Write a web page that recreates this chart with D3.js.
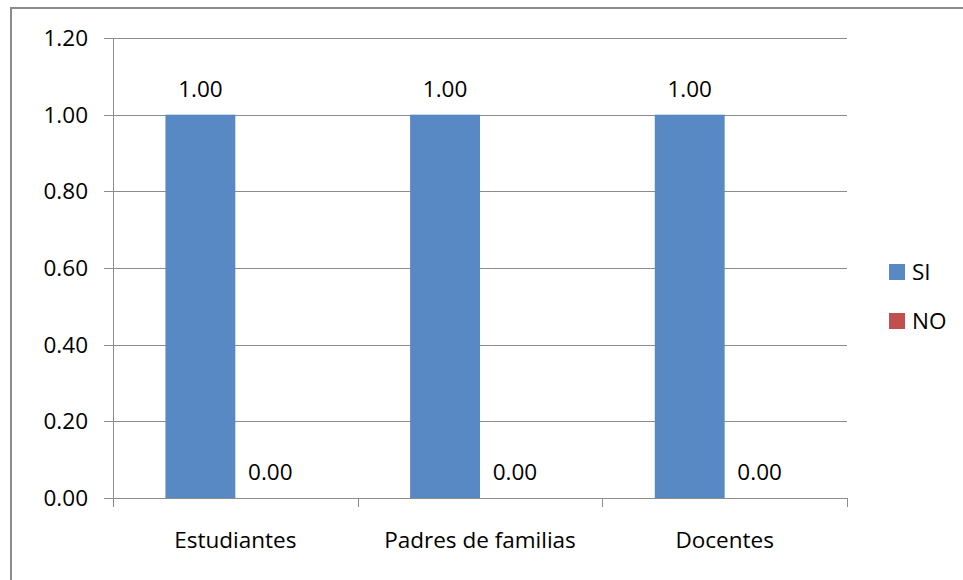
<!DOCTYPE html>
<html>
<head>
<meta charset="utf-8">
<script src="https://cdn.jsdelivr.net/npm/d3@7"></script>
<style>
  body { margin: 0; background: #fff; }
  svg { display: block; font-family: "Open Sans", sans-serif; }
</style>
</head>
<body>
<svg id="chart" width="963" height="580"></svg>
<script>
const categories = ['Estudiantes', 'Padres de familias', 'Docentes']
const seriesNames = ['SI', 'NO']
const siValues = [1.0, 1.0, 1.0]
const noValues = [0.0, 0.0, 0.0]
const yTicks = [0, 0.2, 0.4, 0.6, 0.8, 1.0, 1.2]
const colors = ['#5889c4', '#c0504d']

const svg = d3.select('#chart')
const fontSize = 22.5
const gridColor = '#8c8c8c'

// outer frame (right and bottom edges fall outside the picture)
svg.append('rect')
  .attr('x', 11).attr('y', 8)
  .attr('width', 1000).attr('height', 600)
  .attr('fill', 'none')
  .attr('stroke', '#8c8c8c')
  .attr('stroke-width', 2)

const plot = { left: 113, right: 847, top: 38, bottom: 498 }

const x = d3.scaleBand()
  .domain(categories)
  .range([plot.left, plot.right])

// two bars per category, 150% gap between groups
const barW = x.bandwidth() / 3.5
const xs = d3.scaleBand()
  .domain(seriesNames)
  .range([-barW, barW])

const y = d3.scaleLinear()
  .domain([0, 1.2])
  .range([plot.bottom, plot.top])

// gridlines + y ticks
const g = svg.append('g')
g.selectAll('line.grid')
  .data(yTicks)
  .join('line')
  .attr('class', 'grid')
  .attr('x1', plot.left - 9)
  .attr('x2', plot.right)
  .attr('y1', d => Math.round(y(d)) + 0.5)
  .attr('y2', d => Math.round(y(d)) + 0.5)
  .attr('stroke', gridColor)

g.selectAll('text.ytick')
  .data(yTicks)
  .join('text')
  .attr('class', 'ytick')
  .attr('x', 88)
  .attr('y', d => y(d) + 8)
  .attr('text-anchor', 'end')
  .attr('font-size', fontSize)
  .text(d => d3.format('.2f')(d))

// y axis line
g.append('line')
  .attr('x1', plot.left + 0.5).attr('x2', plot.left + 0.5)
  .attr('y1', plot.top).attr('y2', plot.bottom + 9)
  .attr('stroke', gridColor)

// category boundary ticks
g.selectAll('line.xtick')
  .data(categories.slice(1).map(c => x(c)).concat([plot.right]))
  .join('line')
  .attr('class', 'xtick')
  .attr('x1', d => Math.round(d) + 0.5)
  .attr('x2', d => Math.round(d) + 0.5)
  .attr('y1', plot.bottom)
  .attr('y2', plot.bottom + 9)
  .attr('stroke', gridColor)

// bars
const rows = categories.map((c, i) => ({
  cat: c,
  values: [
    { name: 'SI', v: siValues[i] },
    { name: 'NO', v: noValues[i] }
  ]
}))

const groups = svg.append('g').selectAll('g')
  .data(rows)
  .join('g')
  .attr('transform', d => `translate(${x(d.cat) + x.bandwidth() / 2},0)`)

groups.selectAll('rect')
  .data(d => d.values)
  .join('rect')
  .attr('x', d => xs(d.name))
  .attr('y', d => y(d.v))
  .attr('width', xs.bandwidth())
  .attr('height', d => y(0) - y(d.v))
  .attr('fill', (d, i) => colors[i])

groups.selectAll('text')
  .data(d => d.values)
  .join('text')
  .attr('x', d => xs(d.name) + xs.bandwidth() / 2)
  .attr('y', d => y(d.v) - 18)
  .attr('text-anchor', 'middle')
  .attr('font-size', fontSize)
  .text(d => d3.format('.2f')(d.v))

// category labels
svg.append('g').selectAll('text')
  .data(categories)
  .join('text')
  .attr('x', d => x(d) + x.bandwidth() / 2)
  .attr('y', 548)
  .attr('text-anchor', 'middle')
  .attr('font-size', fontSize)
  .text(d => d)

// legend
const legend = svg.append('g').selectAll('g')
  .data(seriesNames)
  .join('g')
  .attr('transform', (d, i) => `translate(889,${264 + i * 49})`)

legend.append('rect')
  .attr('width', 16).attr('height', 16)
  .attr('fill', (d, i) => colors[i])

legend.append('text')
  .attr('x', 23)
  .attr('y', 16)
  .attr('font-size', fontSize)
  .text(d => d)
</script>
</body>
</html>
